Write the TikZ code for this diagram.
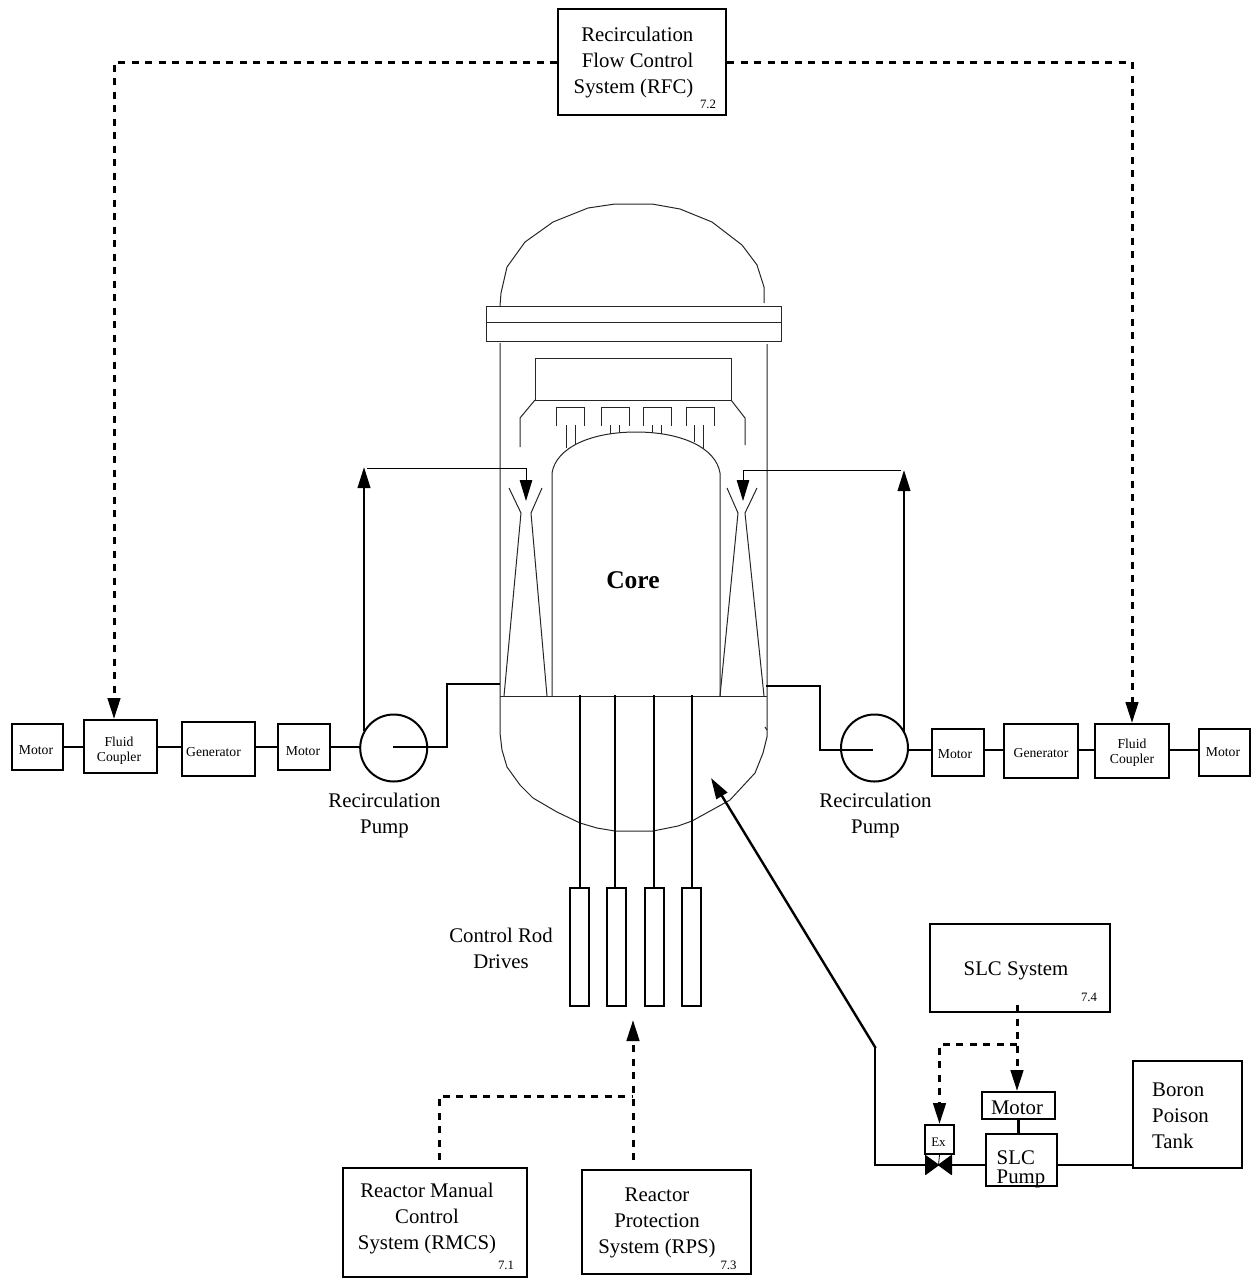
\documentclass[tikz,border=0pt]{standalone}
\usepackage{fontspec}
\setmainfont{Liberation Serif}
\usepackage{tikz}
\usetikzlibrary{
  arrows.meta,
  calc
}

\tikzset{
  thinline/.style={line width=1pt, black!85},
  pipe/.style={line width=2.4pt, line cap=rect},
  ctrl/.style={line width=3pt, dash pattern=on 7pt off 6.5pt},
  bigtip/.style={-{Triangle[length=21pt,width=12.5pt]}},
  sysbox/.style={draw, line width=2pt, fill=white, inner sep=0pt},
  lbl/.style={font=\fontsize{20.8}{26}\selectfont, align=center, inner sep=0pt},
  smalllbl/.style={font=\fontsize{13.7}{15.3}\selectfont, align=center, inner sep=0pt},
  numlbl/.style={font=\fontsize{12.8}{14}\selectfont, inner sep=0pt}
}

\begin{document}
\begin{tikzpicture}[x=1pt,y=-1pt]

\useasboundingbox (0,0) rectangle (1254,1278);

% Upper head of the vessel
\draw[thinline] (500,306) -- (501,293) -- (507,267) -- (525,242) -- (553,222) -- (588,208) -- (615,204)
    -- (652,204) -- (680,209) -- (712,222) -- (742,245) -- (757,265) -- (764,287) -- (764,303);

% Flange
\draw[thinline] (486,306) rectangle (781,341);
\draw[thinline] (486,322) -- (781,322);

% Vessel walls and lower head
\draw[thinline] (500,343) -- (500,733) -- (502,750) -- (507,767) -- (520,785) -- (533,798) -- (557,812)
    -- (580,823) -- (597,828) -- (615,831) -- (653,831) -- (678,826) -- (692,821) -- (730,800)
    -- (755,773) -- (763,753) -- (767,737) -- (767,344);
\draw[thinline] (765,727) -- (767,730);
\draw[thinline] (500,696) -- (767,696);

% Steam separator and dryer
\draw[thinline] (535,358) rectangle (731,400);
\draw[thinline] (535,400) -- (520,418) -- (520,447);
\draw[thinline] (731,400) -- (745,418) -- (745,445);
\foreach \x in {556,601,643,686} {
  \draw[thinline] (\x,426) -- (\x,407) -- ({\x+28},407) -- ({\x+28},426);
}
\draw[thinline] (566,425) -- (566,448);
\draw[thinline] (575,425) -- (575,445);
\draw[thinline] (610,425) -- (610,434);
\draw[thinline] (619,425) -- (619,433);
\draw[thinline] (652,425) -- (652,433);
\draw[thinline] (661,425) -- (661,434);
\draw[thinline] (694,425) -- (694,442);
\draw[thinline] (703,425) -- (703,448);

% Core shroud
\draw[thinline] (552,696) -- (552,473) .. controls (556,448) and (590,432) .. (636,432)
    .. controls (682,432) and (716,448) .. (720,473) -- (720,696);
\node[inner sep=0pt, font=\fontsize{25.5}{28}\selectfont\bfseries] (core) at (633,580) {Core};

% Jet pumps
\draw[thinline] (509,488) -- (521,513) -- (504,696);
\draw[thinline] (542,488) -- (531,513) -- (547,696);
\draw[thinline] (727,488) -- (738,513) -- (720,696);
\draw[thinline] (757,488) -- (745,513) -- (764,696);

% Left recirculation loop
\coordinate (lineL) at (394,747);
\node[sysbox, minimum width=51pt, minimum height=46pt] (motorLA) at (37.5,747) {};
\node[smalllbl] (motorLAText) at (36,750.5) {Motor};
\node[sysbox, minimum width=73pt, minimum height=53pt] (couplerL) at (120.5,746.5) {};
\node[smalllbl] (couplerLText) at (119,750.5) {Fluid\\Coupler};
\node[sysbox, minimum width=73pt, minimum height=54pt] (generatorL) at (218.5,749) {};
\node[smalllbl] (generatorLText) at (213.5,752) {Generator};
\node[sysbox, minimum width=52pt, minimum height=46pt] (motorLB) at (304,747) {};
\node[smalllbl] (motorLBText) at (303,751.5) {Motor};
\node[circle, draw, line width=2pt, minimum size=67pt, inner sep=0pt] (pumpL) at (393.7,748) {};
\node[lbl] (pumpLText) at (384.5,815) {Recirculation\\Pump};

\draw[pipe] (motorLA.east |- lineL) -- (couplerL.west |- lineL);
\draw[pipe] (couplerL.east |- lineL) -- (generatorL.west |- lineL);
\draw[pipe] (generatorL.east |- lineL) -- (motorLB.west |- lineL);
\draw[pipe] (motorLB.east |- lineL) -- (pumpL.west |- lineL);
\coordinate (outL) at (499,684);
\draw[pipe] (lineL) -- (447,747) -- (447,684) -- (outL);
\coordinate (riseL) at (364,467);
\draw[pipe, bigtip] (364,730) -- (riseL);
\coordinate (jetL) at (526,501);
\draw[thinline, black, bigtip] (367,468.5) -| (jetL);

% Right recirculation loop
\coordinate (lineR) at (872,750);
\node[circle, draw, line width=2pt, minimum size=67pt, inner sep=0pt] (pumpR) at (874.5,748) {};
\node[sysbox, minimum width=52pt, minimum height=47pt] (motorRB) at (958,752.5) {};
\node[smalllbl] (motorRBText) at (955,754.5) {Motor};
\node[sysbox, minimum width=74pt, minimum height=54pt] (generatorR) at (1041,751) {};
\node[smalllbl] (generatorRText) at (1041,753) {Generator};
\node[sysbox, minimum width=74pt, minimum height=54pt] (couplerR) at (1132,751) {};
\node[smalllbl] (couplerRText) at (1132,753) {Fluid\\Coupler};
\node[sysbox, minimum width=51pt, minimum height=47pt] (motorRA) at (1224.5,752.5) {};
\node[smalllbl] (motorRAText) at (1223,752) {Motor};
\node[lbl] (pumpRText) at (875.5,815) {Recirculation\\Pump};

\draw[pipe] (pumpR.east |- lineR) -- (motorRB.west |- lineR);
\draw[pipe] (motorRB.east |- lineR) -- (generatorR.west |- lineR);
\draw[pipe] (generatorR.east |- lineR) -- (couplerR.west |- lineR);
\draw[pipe] (couplerR.east |- lineR) -- (motorRA.west |- lineR);
\coordinate (outR) at (767,686);
\draw[pipe] (lineR) -- (820,750) -- (820,686) -- (outR);
\coordinate (riseR) at (904,470);
\draw[pipe, bigtip] (904,732) -- (riseR);
\coordinate (jetR) at (743,501);
\draw[thinline, black, bigtip] (901,470) -| (jetR);

% Recirculation flow control
\node[sysbox, minimum width=168pt, minimum height=106pt] (rfc) at (642,62) {};
\node[lbl, align=right] (rfcText) at (633.5,63) {Recirculation\\Flow Control\\System (RFC)};
\node[numlbl] (rfcNum) at (708,104) {7.2};
\coordinate (couplerLIn) at (114,719);
\draw[ctrl, bigtip] (rfc.west) -| (couplerLIn);
\draw[ctrl, bigtip] (rfc.east) -| (couplerR.north);

% Control rods and drives
\foreach \x/\name in {579.5/a,616.5/b,654/c,691.5/d} {
  \node[sysbox, minimum width=19pt, minimum height=118pt] (drive\name) at (\x,947) {};
}
\coordinate (rodA) at (580,696);
\coordinate (rodB) at (615,696);
\coordinate (rodC) at (654,696);
\coordinate (rodD) at (692,696);
\draw[pipe] (rodA) -- (rodA |- drivea.north);
\draw[pipe] (rodB) -- (rodB |- driveb.north);
\draw[pipe] (rodC) -- (rodC |- drivec.north);
\draw[pipe] (rodD) -- (rodD |- drived.north);
\node[lbl] (driveText) at (501,948) {Control Rod\\Drives};

% Reactor manual control and protection
\node[sysbox, minimum width=184pt, minimum height=109pt] (rmcs) at (435,1222.5) {};
\node[lbl] (rmcsText) at (427,1218.5) {Reactor Manual\\Control\\System (RMCS)};
\node[numlbl] (rmcsNum) at (506,1265) {7.1};
\node[sysbox, minimum width=169pt, minimum height=104pt] (rps) at (666.5,1222) {};
\node[lbl] (rpsText) at (657,1223) {Reactor\\Protection\\System (RPS)};
\node[numlbl] (rpsNum) at (728.5,1265) {7.3};
\coordinate (rodIn) at (633,1020);
\coordinate (rpsOut) at (633,1160);
\coordinate (rmcsOut) at (439,1160);
\draw[ctrl, bigtip] (rpsOut) -- (rodIn);
\draw[ctrl] (rmcsOut) |- (633,1096);

% Standby liquid control
\node[sysbox, minimum width=180pt, minimum height=88pt] (slc) at (1020,968) {};
\node[lbl] (slcText) at (1016,971) {SLC System};
\node[numlbl] (slcNum) at (1089,997) {7.4};
\node[sysbox, minimum width=73pt, minimum height=27pt] (motorS) at (1018.5,1105.5) {};
\node[lbl] (motorSText) at (1017,1107.5) {Motor};
\node[sysbox, minimum width=71pt, minimum height=52pt] (pumpS) at (1021.5,1160) {};
\node[lbl, align=left, font=\fontsize{20.8}{19}\selectfont] (pumpSText) at (1021,1169) {SLC\\Pump};
\node[sysbox, minimum width=109pt, minimum height=107pt] (tank) at (1187.5,1114.5) {};
\node[lbl, align=left] (tankText) at (1180.5,1116) {Boron\\Poison\\Tank};
\node[sysbox, minimum width=29pt, minimum height=29pt] (exV) at (939.5,1139.5) {};
\node[inner sep=0pt, font=\fontsize{13}{14}\selectfont] (exText) at (938.5,1142) {Ex};

% Injection valve
\coordinate (valve) at (938.5,1165);
\fill[draw, line width=1pt, line join=round] (925.5,1155.5) -- (valve) -- (951.5,1155.5) -- (951.5,1174.5) -- (valve) -- (925.5,1174.5) -- cycle;
\draw[line width=0.8pt] (exV.south) -- (valve);

% Injection line
\coordinate (corner) at (875,1047);
\coordinate (inject) at (711,778);
\draw[pipe] (valve) -- (875,1165) -- (corner);
\draw[pipe, bigtip] (corner) -- (inject);
\draw[pipe] (valve) -- (pumpS.west |- valve);
\draw[pipe] (pumpS.east |- valve) -- (tank.west |- valve);
\draw[pipe] (motorS.south) -- (motorS.south |- pumpS.north);

% Poison control
\coordinate (slcOut) at (1017,1005);
\coordinate (branch) at (1017,1044);
\draw[ctrl, bigtip] (slcOut) -- (slcOut |- motorS.north);
\draw[ctrl, bigtip] (branch) -| (exV.north);

\end{tikzpicture}
\end{document}
